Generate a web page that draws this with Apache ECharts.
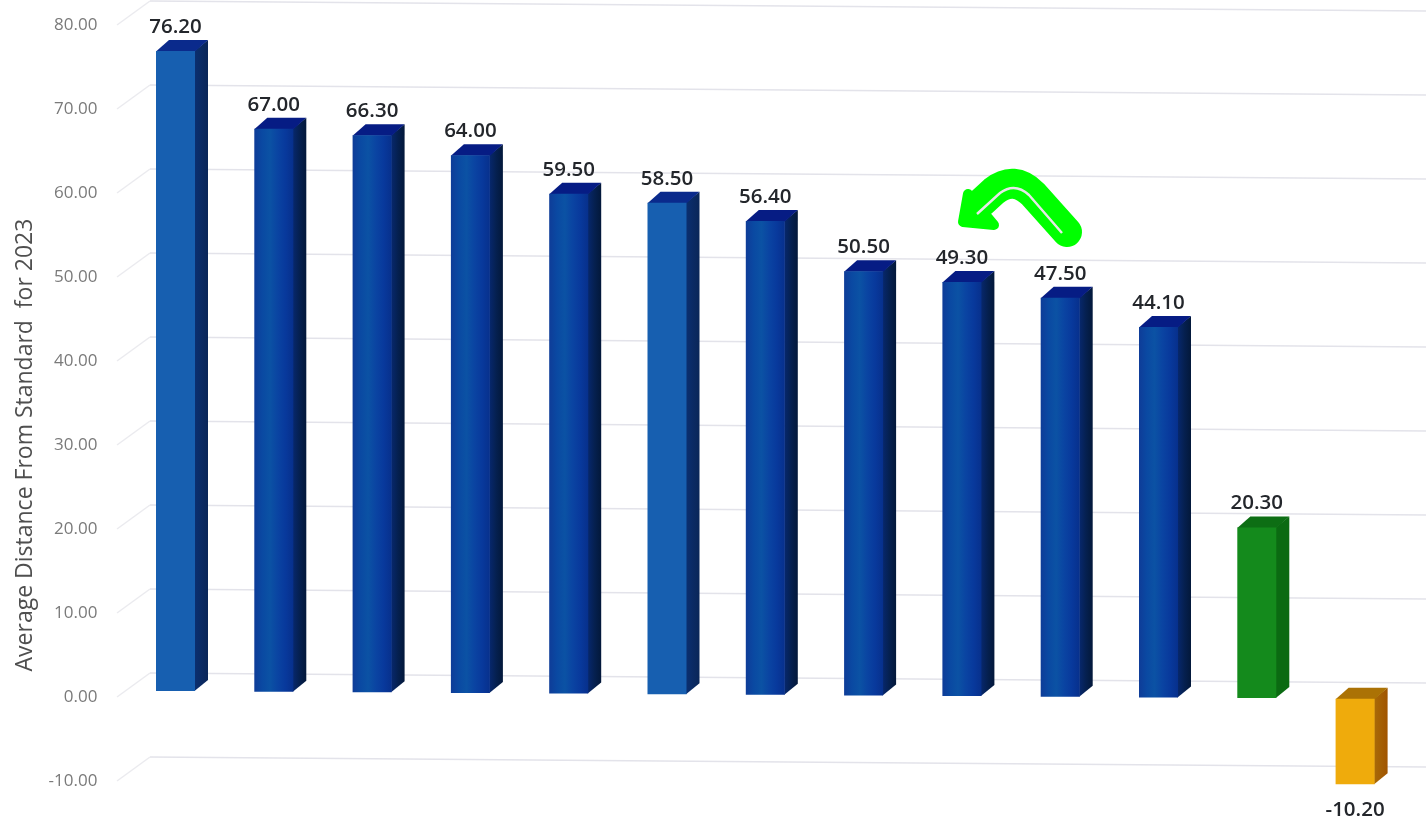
<!DOCTYPE html>
<html><head><meta charset="utf-8">
<style>html,body{margin:0;padding:0;background:#fff}#c{width:1426px;height:821px}</style>
<script src="https://cdn.jsdelivr.net/npm/echarts@6/dist/echarts.min.js"></script>
</head><body><div id="c"></div>
<script>
const categories = ['1','2','3','4','5','6','7','8','9','10','11','12','13'];
const values = [76.2,67.0,66.3,64.0,59.5,58.5,56.4,50.5,49.3,47.5,44.1,20.3,-10.2];
const tickValues = [-10,0,10,20,30,40,50,60,70,80];
const axisTitle = 'Average Distance From Standard  for 2023';

const FONT = '"Open Sans", sans-serif';
function grad(stops){
  return {type:'linear',x:0,y:0,x2:1,y2:0,colorStops:stops.map((c,i)=>({offset:i/(stops.length-1),color:c}))};
}
const blueShaded = {front:grad(['#0e3c98','#0a49a2','#0b52a4','#0a44a2','#08399c','#07308c']),side:grad(['#07286e','#052050','#03183a']),top:'#061c84'};
const blueFlat = {front:'#175fb0',side:grad(['#0b2f70','#0a2658']),top:'#0a2a8c'};
const green = {front:'#148a1c',side:'#0b6a12',top:'#0d6e14'};
const amber = {front:'#efab0c',side:grad(['#a86a08','#a05400']),top:'#ab7205'};
function styleFor(i){
  if(i===11) return green;
  if(i===12) return amber;
  return (i===0||i===5)?blueFlat:blueShaded;
}
// Picture is photographed with a slight tilt: every front edge drifts downward to the right.
const tilt = x => -6 + (x-156)*0.0065;
const BW=39, DX=13, DY=11;

function renderWall(params,api){
  const c=api.coord([0,api.value(0)]);
  const y=c[1];
  const x0=117,x1=150,x2=1426;
  const st={stroke:'#e3e3ea',lineWidth:1.5,fill:null};
  return {type:'group',silent:true,children:[
    {type:'line',shape:{x1:x0,y1:y,x2:x1,y2:y-24},style:{stroke:'#ebebef',lineWidth:1.5,fill:null}},
    {type:'line',shape:{x1:x1,y1:y-24,x2:x2,y2:y-24+10},style:st}
  ]};
}
function renderBar(params,api){
  const i=api.value(0), v=api.value(1);
  const cx=api.coord([i,0])[0];
  const xl=cx-BW/2, xr=cx+BW/2;
  const t=tilt(xl);
  const yv=api.coord([i,v])[1]+t, y0=api.coord([i,0])[1]+t;
  const top=Math.min(yv,y0), bot=Math.max(yv,y0);
  const s=styleFor(i);
  const labelY=v>=0?top-24:bot+26;
  return {type:'group',children:[
    {type:'polygon',shape:{points:[[xr-0.5,top],[xr+DX,top-DY],[xr+DX,bot-DY],[xr-0.5,bot]]},style:{fill:s.side}},
    {type:'polygon',shape:{points:[[xl,top+0.5],[xl+DX,top-DY],[xr+DX,top-DY],[xr,top+0.5]]},style:{fill:s.top}},
    {type:'rect',shape:{x:xl,y:top,width:BW,height:bot-top},style:{fill:s.front}},
    {type:'text',x:cx,y:labelY,style:{text:v.toFixed(2),font:'600 20.5px '+FONT,fill:'#23262b',align:'center',verticalAlign:'middle'}}
  ]};
}
function renderArrow(){
  return {type:'group',children:[
    {type:'path',shape:{pathData:'M1067 232 L1033 194 Q1014 175 994 191 L982 202'},style:{fill:null,stroke:'#00ff00',lineWidth:30,lineCap:'round',lineJoin:'round'}},
    {type:'polygon',shape:{points:[[968,194],[963,222],[994,225]]},style:{fill:'#00ff00',stroke:'#00ff00',lineWidth:10,lineJoin:'round'}},
    {type:'path',shape:{pathData:'M1062 233 L1029 195 Q1015 182 1000 193 L977 214'},style:{fill:null,stroke:'#e8e8e8',lineWidth:2.5}}
  ]};
}
const chart=echarts.init(document.getElementById('c'),null,{renderer:'canvas'});
chart.setOption({
  animation:false,
  backgroundColor:'#ffffff',
  grid:{left:126.35,top:25,width:1277.9,height:756,containLabel:false},
  xAxis:{type:'category',data:categories,show:false},
  yAxis:{type:'value',min:-10,max:80,interval:10,splitLine:{show:false},axisLine:{show:false},axisTick:{show:false},
    axisLabel:{margin:29,color:'#7a7a7a',fontFamily:FONT,fontSize:17,formatter:v=>v.toFixed(2)}},
  graphic:[
    {type:'text',x:25,y:445,rotation:Math.PI/2,style:{text:axisTitle,font:'23px '+FONT,fill:'#4f4f4f',align:'center',verticalAlign:'middle'},z:5}
  ],
  series:[
    {type:'custom',clip:false,silent:true,z:1,renderItem:renderWall,data:tickValues.map(v=>[v]),encode:{y:0}},
    {type:'custom',clip:false,silent:true,z:2,renderItem:renderBar,data:values.map((v,i)=>[i,v]),encode:{x:0,y:1}},
    {type:'custom',clip:false,silent:true,z:3,renderItem:renderArrow,data:[[0]],encode:{x:0}}
  ]
});
</script></body></html>
